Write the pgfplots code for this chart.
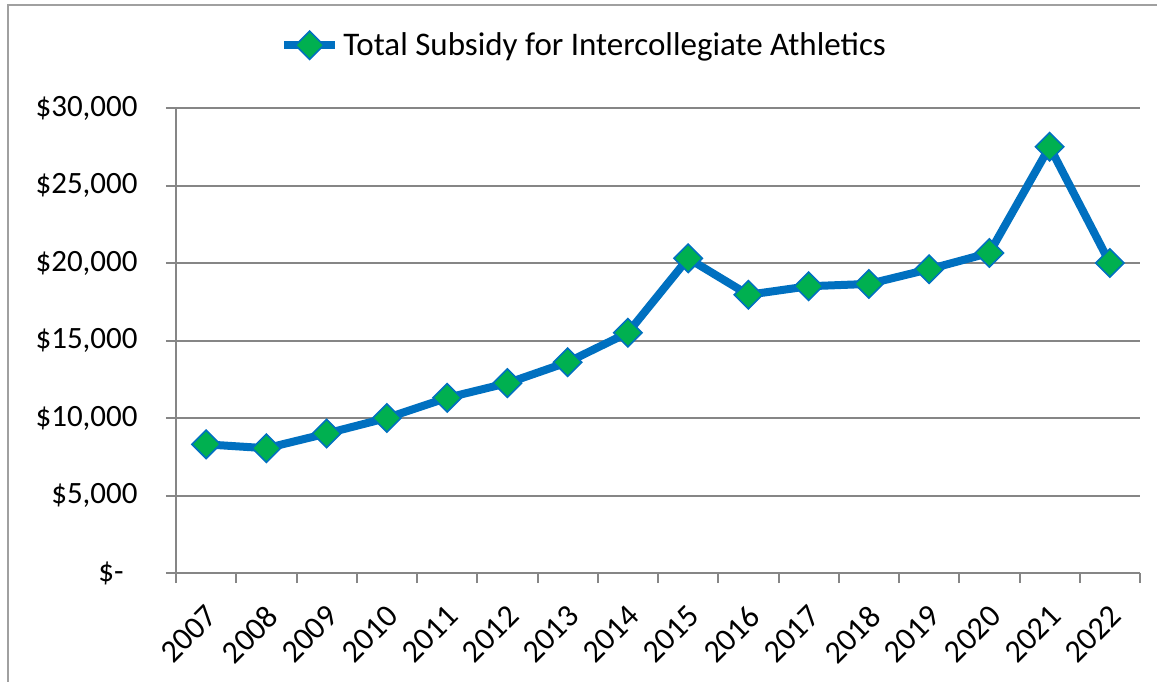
\documentclass[border=0pt]{standalone}
\usepackage{pgfplots}
\pgfplotsset{compat=1.18}
\usepackage{fontspec}
\setmainfont{Carlito}
\definecolor{xlblue}{RGB}{0,112,192}
\definecolor{xlgreen}{RGB}{0,176,80}
\definecolor{gridgray}{RGB}{134,134,134}
\definecolor{framegray}{RGB}{160,160,160}
\begin{document}
\begin{tikzpicture}
\useasboundingbox (0,0) rectangle (578.5pt,340.5pt);
\begin{scope}
\clip (0,0) rectangle (578.5pt,340.5pt);
\draw[framegray, line width=1.2pt] (4pt,-20pt) rectangle (600pt,338pt);
\end{scope}
\begin{axis}[
  at={(88pt,54pt)}, anchor=south west,
  scale only axis, width=482pt, height=232.5pt,
  xmin=-0.5, xmax=15.5, ymin=0, ymax=30000,
  scaled y ticks=false,
  axis lines*=left,
  axis line style={gridgray, line width=1pt},
  xtick={0,...,15},
  xticklabels={2007,2008,2009,2010,2011,2012,2013,2014,2015,2016,2017,2018,2019,2020,2021,2022},
  minor xtick={-0.5,0.5,...,15.5},
  major x tick style={draw=none},
  minor x tick style={gridgray, line width=1pt},
  tick align=outside,
  minor tick length=5pt,
  major tick length=5pt,
  ytick={0,5000,...,30000},
  yticklabels={{\$-\kern7pt},{\$5,000},{\$10,000},{\$15,000},{\$20,000},{\$25,000},{\$30,000}},
  y tick style={gridgray, line width=1pt},
  ymajorgrids,
  major grid style={gridgray, line width=1pt},
  xticklabel shift={8pt},
  xticklabel style={rotate=45, anchor=north east, inner sep=0pt, xshift=-2pt, yshift=-1pt, font=\fontsize{16}{18}\selectfont},
  yticklabel style={xshift=-14pt, inner sep=0pt, font=\fontsize{15.5}{18}\selectfont},
  ticklabel style={text=black},
  legend style={at={(0.4243,1.135)}, anchor=center, draw=none, fill=none,
    font=\fontsize{16.5}{19}\selectfont, inner sep=0pt},
  legend image code/.code={\draw[mark repeat=2,mark phase=2] plot coordinates {(0cm,0cm)(0.45cm,0cm)(0.9cm,0cm)};},
  clip=false,
]
\addplot[xlblue, line width=4pt, mark=square*, mark size=5pt,
  mark options={fill=xlgreen, draw=xlblue, line width=0.8pt, rotate=45}]
coordinates {
(0,8300) (1,8050) (2,9000) (3,10000) (4,11300) (5,12250) (6,13600) (7,15500)
(8,20300) (9,17950) (10,18500) (11,18650) (12,19600) (13,20650) (14,27500) (15,20000)
};
\addlegendentry{Total Subsidy for Intercollegiate Athletics}
\end{axis}
\end{tikzpicture}
\end{document}
